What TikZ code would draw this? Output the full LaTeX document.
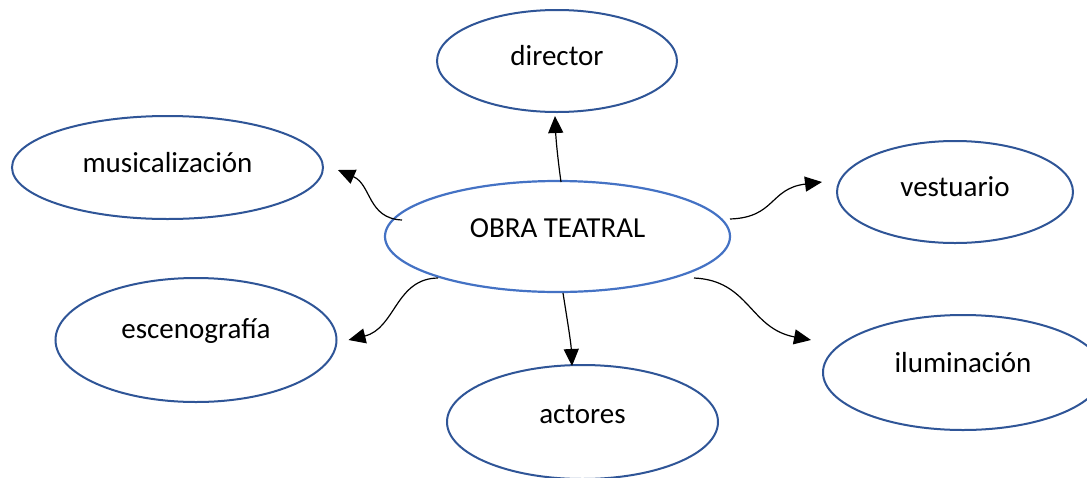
\documentclass[tikz,border=0pt]{standalone}
\usepackage{fontspec}
\setmainfont{Carlito}
\usetikzlibrary{shapes.geometric,arrows.meta,calc}
\definecolor{outerblue}{HTML}{2F5597}
\definecolor{innerblue}{HTML}{4472C4}
\newcommand\txtat[2]{\raisebox{#1}[0pt][0pt]{#2}}
\begin{document}
\begin{tikzpicture}[x=1pt,y=-1pt,
  bub/.style={ellipse, draw=outerblue, line width=2pt, fill=white, inner sep=0pt,
     font=\fontsize{29}{34}\selectfont},
  hub/.style={bub, draw=innerblue, line width=2.2pt},
  conn/.style={line width=1.2pt, -{Triangle[length=17pt,width=15pt]}}]
\useasboundingbox (0,0) rectangle (1087,477);
\node[hub, minimum width=345, minimum height=111] (obra) at (557.5,236.5) {\txtat{-0.5pt}{OBRA TEATRAL}};
\node[bub, minimum width=240, minimum height=102] (dir) at (557,61) {\txtat{-4pt}{director}};
\node[bub, minimum width=311, minimum height=103] (mus) at (167.5,167.5) {\txtat{-4.5pt}{musicalización}};
\node[bub, minimum width=236, minimum height=102] (vest) at (955,192) {\txtat{-4pt}{vestuario}};
\node[bub, minimum width=281, minimum height=124] (esc) at (196,340) {\txtat{2pt}{escenografía}};
\node[bub, minimum width=271, minimum height=114] (act) at (582.5,422) {\txtat{-1pt}{actores}};
\node[bub, minimum width=280, minimum height=115] (ilu) at (963,372.5) {\txtat{0.5pt}{iluminación}};
% connectors
\draw[conn] ($(obra.center)+(3.5,-54.5)$) .. controls ($(obra.center)+(0.5,-76)$) and ($(obra.center)+(-1.5,-96)$) .. ($(dir.south)+(-2,3)$);
\draw[conn] ($(obra.center)+(-155.5,-16.5)$) .. controls ($(obra.center)+(-190,-18)$) and ($(obra.center)+(-186,-52)$) .. ($(mus.east)+(14,2.5)$);
\draw[conn] ($(obra.center)+(172.5,-17.5)$) .. controls ($(obra.center)+(218,-19)$) and ($(obra.center)+(212,-48)$) .. ($(vest.west)+(-14,-10)$);
\draw[conn] ($(obra.center)+(-119.5,41.5)$) .. controls ($(obra.center)+(-162,42)$) and ($(obra.center)+(-162,92)$) .. ($(esc.east)+(11,0)$);
\draw[conn] ($(obra.center)+(5.5,56.5)$) .. controls ($(obra.center)+(9.5,82)$) and ($(obra.center)+(13.5,106)$) .. ($(act.north)+(-10.5,2)$);
\draw[conn] ($(obra.center)+(136.5,41.5)$) .. controls ($(obra.center)+(192,44)$) and ($(obra.center)+(192,92)$) .. ($(ilu.west)+(-11,-32.5)$);
\end{tikzpicture}
\end{document}
